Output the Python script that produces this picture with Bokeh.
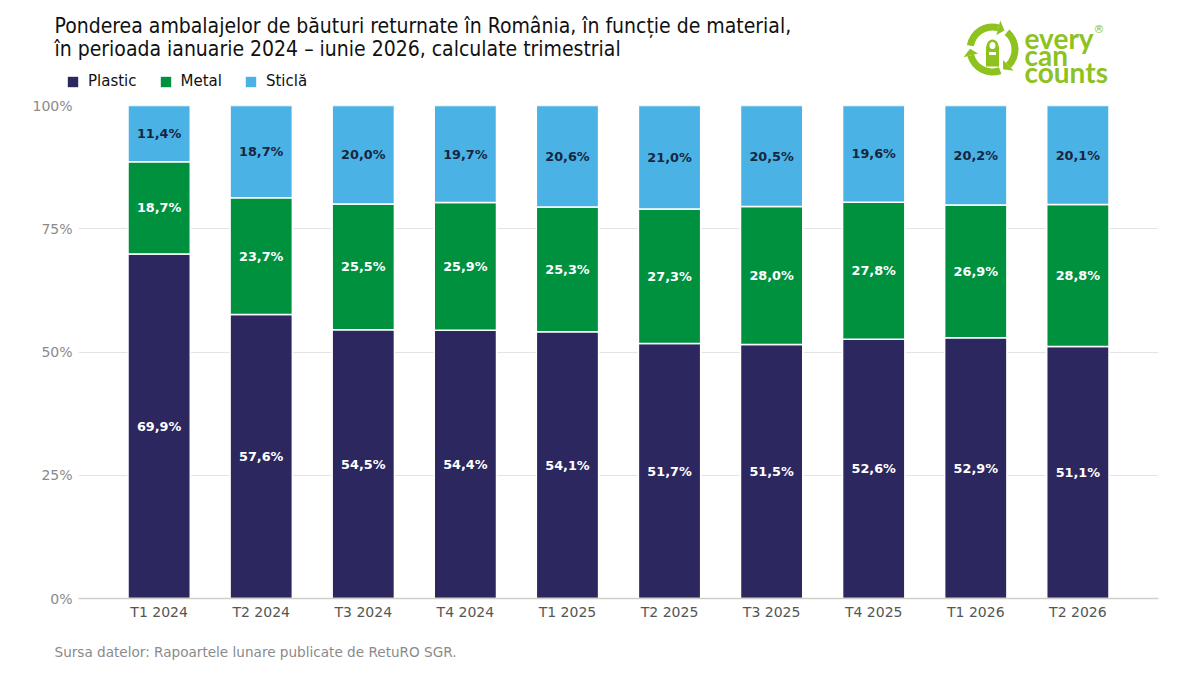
import numpy as np
from bokeh.plotting import figure
from bokeh.layouts import column
from bokeh.models import (ColumnDataSource, FactorRange, Range1d, FixedTicker,
                          PrintfTickFormatter, Legend, LegendItem)
from bokeh.core.properties import value
from bokeh.embed import file_html
from bokeh.resources import INLINE

# ---------------- data ----------------
categories = ["T1 2024", "T2 2024", "T3 2024", "T4 2024", "T1 2025",
              "T2 2025", "T3 2025", "T4 2025", "T1 2026", "T2 2026"]
plastic = [69.9, 57.6, 54.5, 54.4, 54.1, 51.7, 51.5, 52.6, 52.9, 51.1]
metal = [18.7, 23.7, 25.5, 25.9, 25.3, 27.3, 28.0, 27.8, 26.9, 28.8]
sticla = [11.4, 18.7, 20.0, 19.7, 20.6, 21.0, 20.5, 19.6, 20.2, 20.1]
series = ["Plastic", "Metal", "Sticlă"]
y_ticks = [0, 25, 50, 75, 100]

title_lines = ["Ponderea ambalajelor de băuturi returnate în România, în funcție de material,",
               "în perioada ianuarie 2024 – iunie 2026, calculate trimestrial"]
source_text = "Sursa datelor: Rapoartele lunare publicate de RetuRO SGR."
logo_words = ["every", "can", "counts"]

colors = {"Plastic": "#2c275e", "Metal": "#00913f", "Sticlă": "#4bb2e6"}
label_colors = {"Plastic": "white", "Metal": "white", "Sticlă": "#17263f"}
FONT = "DejaVu Sans"
W = 1200
BL, BR = 78, 42          # main frame 78..1158

def fmt(v):
    return f"{v:.1f}".replace(".", ",") + "%"

def plain(height):
    fig = figure(width=W, height=height, x_range=Range1d(0, W), y_range=Range1d(0, height),
                 output_backend="svg", toolbar_location=None, min_border=0)
    fig.frame_align = False
    fig.axis.visible = False
    fig.grid.visible = False
    fig.outline_line_color = None
    return fig

# ---------------- header ----------------
HH = 97
header = plain(HH)
for i, line in enumerate(title_lines):
    header.text(x=[54], y=[HH - 25 - i * 23], text=[line],
                text_font=value("DejaVu Sans Condensed"), text_font_size="21px",
                text_color="#111111", text_baseline="alphabetic")

# legend (header copies of the series swatches)
items = []
for s in series:
    sw = ColumnDataSource(dict(left=[-20], right=[-10], top=[-10], bottom=[-20]))
    r = header.quad(left="left", right="right", top="top", bottom="bottom", source=sw,
                    fill_color=colors[s], line_color=None)
    items.append(LegendItem(label=s, renderers=[r]))
leg = Legend(items=items, orientation="horizontal", location=(66, HH - 90), padding=0, margin=0,
             spacing=22, label_standoff=9, glyph_width=13, glyph_height=13, label_height=16,
             label_text_font=FONT, label_text_font_size="15px", label_text_color="#111111",
             border_line_color=None, background_fill_alpha=0)
header.add_layout(leg, "center")

# logo
green = "#8dc21f"
cx, cy = 992, HH - 49
r_in, r_out = 19, 26
r_mid = (r_in + r_out) / 2
for h in [75, -45, 195]:
    header.annular_wedge(x=[cx], y=[cy], inner_radius=r_in, outer_radius=r_out,
                         start_angle=np.deg2rad(h), end_angle=np.deg2rad(h + 95),
                         fill_color=green, line_color=None)
    a0 = np.deg2rad(h)
    a1 = np.deg2rad(h - 17)
    xs = [cx + (r_out + 4) * np.cos(a0), cx + (r_in - 4) * np.cos(a0), cx + r_mid * np.cos(a1)]
    ys = [cy + (r_out + 4) * np.sin(a0), cy + (r_in - 4) * np.sin(a0), cy + r_mid * np.sin(a1)]
    header.patch(x=xs, y=ys, fill_color=green, line_color=None)
header.rect(x=[cx], y=[cy - 7], width=13, height=20, fill_color=green, line_color=None)
header.ellipse(x=[cx], y=[cy + 3], width=12, height=14, fill_color=green, line_color=None)
header.ellipse(x=[cx], y=[cy + 4], width=6, height=7, fill_color="white", line_color=None)
header.rect(x=[cx], y=[cy - 4], width=7, height=3, fill_color="white", line_color=None)
for t, yb in zip(logo_words, [HH - 37, HH - 54, HH - 71]):
    header.text(x=[1024], y=[yb], text=[t], text_font=value("Lato"), text_font_style="bold",
                text_font_size="28px", text_color=green, text_baseline="alphabetic")
header.text(x=[1093], y=[HH - 29], text=["®"], text_font=value(FONT), text_font_size="11px",
            text_color=green, text_baseline="alphabetic")

# ---------------- main chart ----------------
data = {"cat": categories, "Plastic": plastic, "Metal": metal, "Sticlă": sticla}
src = ColumnDataSource(data)
p = figure(width=W, height=536, x_range=FactorRange(factors=categories, range_padding=0.058,
                                                    range_padding_units="percent"),
           y_range=Range1d(0, 100), output_backend="svg", toolbar_location=None,
           min_border_left=BL, min_border_right=BR, min_border_top=8, min_border_bottom=35)
p.frame_align = False
p.vbar_stack(series, x="cat", width=0.61, source=src,
             fill_color=[colors[s] for s in series], line_color="white", line_width=1.5)

base = np.zeros(len(categories))
for s, vals in zip(series, [plastic, metal, sticla]):
    vals = np.array(vals)
    mids = base + vals / 2
    base = base + vals
    p.text(x=categories, y=list(mids), text=[fmt(v) for v in vals], text_font=value(FONT),
           text_font_style="bold", text_font_size="12.8px", text_color=label_colors[s],
           text_align="center", text_baseline="middle")

p.outline_line_color = None
p.xgrid.grid_line_color = None
p.ygrid.grid_line_color = "#e4e4e4"
p.ygrid.ticker = FixedTicker(ticks=y_ticks)
p.yaxis.ticker = FixedTicker(ticks=y_ticks)
p.yaxis.formatter = PrintfTickFormatter(format="%d%%")
p.yaxis.axis_line_color = None
p.yaxis.major_tick_line_color = None
p.yaxis.major_tick_out = 0
p.yaxis.major_tick_in = 0
p.yaxis.minor_tick_line_color = None
p.yaxis.major_label_standoff = 6
p.yaxis.major_label_text_font = FONT
p.yaxis.major_label_text_font_size = "14px"
p.yaxis.major_label_text_color = "#8a8a8a"
p.xaxis.axis_line_color = "#cfcfc8"
p.xaxis.axis_line_width = 1.5
p.xaxis.major_tick_line_color = None
p.xaxis.major_tick_out = 0
p.xaxis.major_tick_in = 0
p.xaxis.minor_tick_line_color = None
p.xaxis.major_label_standoff = 5
p.xaxis.major_label_text_font = FONT
p.xaxis.major_label_text_font_size = "14px"
p.xaxis.major_label_text_color = "#555555"

# ---------------- footer ----------------
FH = 40
footer = plain(FH)
footer.text(x=[54], y=[FH - 18], text=[source_text], text_font=value(FONT),
            text_font_size="13.6px", text_color="#8a8a8a", text_baseline="middle")

layout = column(header, p, footer, spacing=0)
open("out.html", "w").write(file_html(layout, INLINE))
